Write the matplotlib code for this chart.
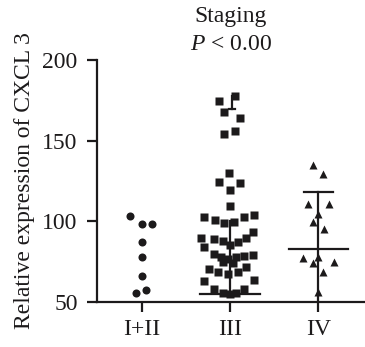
import numpy as np
import matplotlib
matplotlib.use("Agg")
import matplotlib.pyplot as plt

plt.rcParams['font.family'] = 'Liberation Serif'
plt.rcParams['mathtext.fontset'] = 'custom'
plt.rcParams['mathtext.rm'] = 'Liberation Serif'
plt.rcParams['mathtext.it'] = 'Liberation Serif:italic'

groups = ['I+II', 'III', 'IV']

stage12 = [103.4, 98.4, 98.4, 87.5, 78.0, 66.4, 55.8, 57.3]
stage3 = [177.9, 174.8, 167.6, 163.9, 154.2, 156.2, 130.1, 124.5, 123.5, 119.4,
          109.6, 102.8, 100.7, 98.7, 99.7, 102.4, 103.7, 93.5, 89.8, 88.8,
          87.7, 85.4, 87.5, 89.8, 84.0, 79.8, 78.2, 76.7, 77.6, 78.8,
          79.2, 74.8, 73.9, 70.7, 68.6, 67.2, 68.6, 71.4, 63.0, 63.5,
          58.3, 55.6, 55.2, 55.8, 58.3]
stage4 = [134.9, 129.3, 110.7, 110.7, 104.3, 99.7, 95.0, 77.0, 73.9, 78.0,
          74.8, 68.6, 56.2]

# horizontal spread of the points inside each column
jit12 = [-0.13, 0, 0.117, 0, 0, 0, -0.068, 0.052]
jit3 = [0.057, -0.13, -0.068, 0.114, -0.068, 0.052, -0.008, -0.13, 0.114, 0,
        0, -0.29, -0.175, -0.068, 0.045, 0.16, 0.27, 0.265, -0.33, -0.186,
        -0.084, 0, 0.086, 0.18, -0.29, -0.178, -0.102, -0.027, 0.068, 0.16,
        0.257, -0.084, 0.03, -0.235, -0.14, -0.027, 0.086, 0.18, -0.29, 0.276,
        -0.178, -0.084, 0, 0.068, 0.16]
jit4 = [-0.057, 0.057, -0.114, 0.12, 0, -0.057, 0.065, -0.177, -0.057, 0,
        0.178, 0.057, 0]

# summary bars
iii_low, iii_mid, iii_top, iii_cap = 54.8, 100.0, 169.7, 178.0
iv_mean, iv_sd = 82.7, 35.6

col = '#1c1a1b'
lw = 1.6

fig = plt.figure(figsize=(3.65, 3.47), dpi=100)
ax = fig.add_axes([0.2658, 0.1297, 0.7342, 0.6973])

# group III bars
ax.plot([1 - 0.34, 1 + 0.34], [iii_low, iii_low], color=col, lw=lw, zorder=2)
ax.plot([1, 1], [iii_low, iii_mid], color=col, lw=lw, zorder=2)
ax.plot([1.02, 1.02], [iii_top, iii_cap], color=col, lw=lw, zorder=2)
ax.plot([0.99, 1.06], [iii_top, iii_top], color=col, lw=lw, zorder=2)

# group IV mean +- SD
ax.plot([2, 2], [iv_mean - iv_sd, iv_mean + iv_sd], color=col, lw=lw, zorder=2)
ax.plot([2 - 0.335, 2 + 0.335], [iv_mean, iv_mean], color=col, lw=lw, zorder=2)
ax.plot([2 - 0.165, 2 + 0.165], [iv_mean + iv_sd] * 2, color=col, lw=lw, zorder=2)

ax.plot(np.array(jit12) + 0, stage12, 'o', color=col, ms=5.8, mec='none', zorder=3)
ax.plot(np.array(jit3) + 1, stage3, 's', color=col, ms=5.8, mec='none', zorder=3)
ax.plot(np.array(jit4) + 2, stage4, '^', color=col, ms=5.8, mec='none', zorder=3)

ax.set_xlim(-0.508, 2.53)
ax.set_ylim(50, 200)
ax.set_xticks([0, 1, 2])
ax.set_xticklabels(groups)
ax.set_yticks([50, 100, 150, 200])
for s in ['top', 'right']:
    ax.spines[s].set_visible(False)
for s in ['left', 'bottom']:
    ax.spines[s].set_linewidth(lw)
    ax.spines[s].set_color(col)
ax.tick_params(axis='both', length=7, width=lw, color=col, labelsize=17,
               labelcolor=col)
ax.tick_params(axis='y', pad=7)
ax.tick_params(axis='x', pad=5)
ax.set_ylabel('Relative expression of CXCL 3', fontsize=17, color=col, labelpad=5)

fig.text(0.632, 0.952, 'Staging', ha='center', va='center', fontsize=17, color=col)
fig.text(0.632, 0.873, '$P$ < 0.00', ha='center', va='center', fontsize=17, color=col)

fig.savefig('out.png', dpi=100)
